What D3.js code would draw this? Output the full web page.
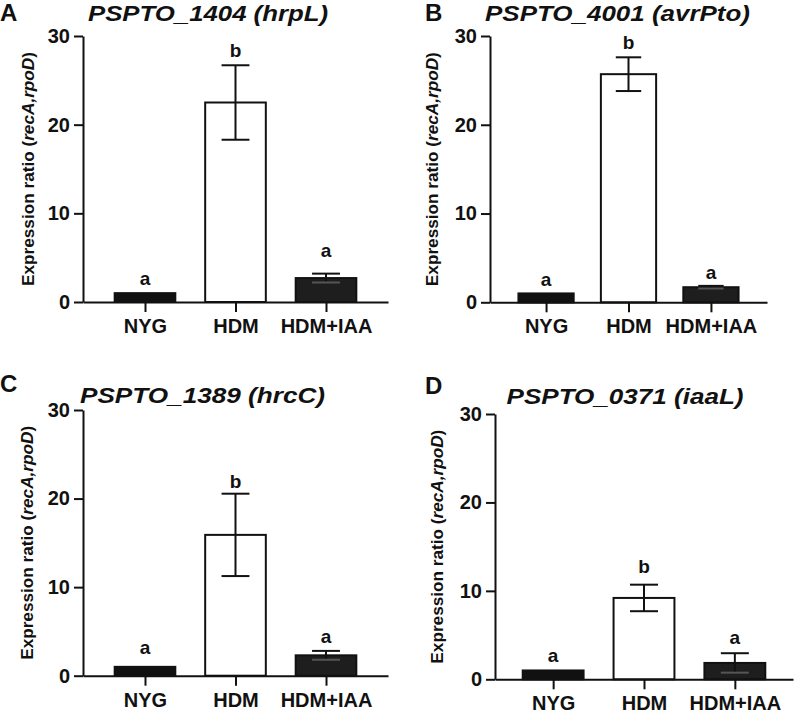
<!DOCTYPE html>
<html><head><meta charset="utf-8">
<script src="https://cdn.jsdelivr.net/npm/d3@7"></script>
<style>
body{margin:0;background:#fff}
text{font-family:"Liberation Sans",Arial,Helvetica,sans-serif;font-weight:bold;fill:#111}
</style>
</head><body>
<svg id="chart" width="800" height="714"></svg>
<script>
// ---------- DATA ----------
const categories = ["NYG", "HDM", "HDM+IAA"];
const panelLetters = ["A", "B", "C", "D"];
const geneIds = ["PSPTO_1404", "PSPTO_4001", "PSPTO_1389", "PSPTO_0371"];
const geneNames = ["hrpL", "avrPto", "hrcC", "iaaL"];
const yTicks = [0, 10, 20, 30];
const yMax = 30;

const meansA = [1.0, 22.5, 2.7];
const errA   = [0, 4.2, 0.5];
const sigA   = ["a", "b", "a"];
const sigPosA = [1.9, 27.6, 5.1];

const meansB = [1.0, 25.7, 1.7];
const errB   = [0, 1.9, 0.15];
const sigB   = ["a", "b", "a"];
const sigPosB = [1.85, 28.5, 2.6];

const meansC = [1.0, 15.9, 2.3];
const errC   = [0, 4.65, 0.5];
const sigC   = ["a", "b", "a"];
const sigPosC = [2.5, 21.2, 3.7];

const meansD = [1.0, 9.2, 1.85];
const errD   = [0, 1.5, 1.1];
const sigD   = ["a", "b", "a"];
const sigPosD = [2.0, 12.0, 4.0];

const allMeans = [meansA, meansB, meansC, meansD];
const allErr = [errA, errB, errC, errD];
const allSig = [sigA, sigB, sigC, sigD];
const allSigPos = [sigPosA, sigPosB, sigPosC, sigPosD];

// ---------- LAYOUT ----------
const layout = [
  {x0:83,  x1:388, pad:0.685, yTop:36,  yBot:302,   titleX:208,   titleY:21,  titleLen:240, letX:0,   letY:21,  ylabX:34},
  {x0:490, x1:767, pad:0.68,  yTop:36,  yBot:302.3, titleX:617.5, titleY:21,  titleLen:265, letX:425, letY:21,  ylabX:438},
  {x0:83,  x1:388, pad:0.685, yTop:410, yBot:675.7, titleX:202.5, titleY:403, titleLen:245, letX:0,   letY:392, ylabX:33},
  {x0:495, x1:793, pad:0.64,  yTop:414, yBot:679.3, titleX:625,   titleY:403.5, titleLen:237, letX:425, letY:394, ylabX:443}
];
const barFills = ["#111111", "#ffffff", "#1e1e1e"];

const svg = d3.select("#chart");

layout.forEach((L, i) => {
  const g = svg.append("g");
  const x = d3.scalePoint().domain(categories).range([L.x0, L.x1]).padding(L.pad);
  const y = d3.scaleLinear().domain([0, yMax]).range([L.yBot, L.yTop]);
  const bw = x.step() * 0.67;
  const means = allMeans[i], errs = allErr[i];

  // bars
  g.selectAll("rect.bar").data(categories).join("rect")
    .attr("x", d => x(d) - bw / 2)
    .attr("y", (d, j) => y(means[j]))
    .attr("width", bw)
    .attr("height", (d, j) => y(0) - y(means[j]))
    .attr("fill", (d, j) => barFills[j])
    .attr("stroke", "#111").attr("stroke-width", 2);

  // error bars
  const capW = bw * 0.46;
  categories.forEach((c, j) => {
    if (errs[j] <= 0) return;
    const cx = x(c);
    const top = y(means[j] + errs[j]), bot = y(means[j] - errs[j]);
    const col = j === 1 ? "#111" : "#111";
    g.append("line").attr("x1", cx).attr("x2", cx).attr("y1", top).attr("y2", bot)
      .attr("stroke", col).attr("stroke-width", 2);
    g.append("line").attr("x1", cx - capW / 2).attr("x2", cx + capW / 2).attr("y1", top).attr("y2", top)
      .attr("stroke", "#111").attr("stroke-width", 2);
    g.append("line").attr("x1", cx - capW / 2).attr("x2", cx + capW / 2).attr("y1", bot).attr("y2", bot)
      .attr("stroke", j === 1 ? "#111" : "#555").attr("stroke-width", 2);
  });

  // axes
  const yAxis = g.append("g").attr("transform", `translate(${L.x0},0)`)
    .call(d3.axisLeft(y).tickValues(yTicks).tickSize(9).tickSizeOuter(0).tickPadding(4));
  const xAxis = g.append("g").attr("transform", `translate(0,${L.yBot})`)
    .call(d3.axisBottom(x).tickSize(10).tickSizeOuter(0).tickPadding(0));
  [yAxis, xAxis].forEach(a => {
    a.select(".domain").attr("stroke", "#111").attr("stroke-width", 2);
    a.selectAll(".tick line").attr("stroke", "#111").attr("stroke-width", 2);
  });
  yAxis.selectAll(".tick text").attr("font-size", 20).attr("fill", "#111")
    .style("font-family", '"Liberation Sans",Arial,sans-serif').style("font-weight", "bold");
  xAxis.selectAll(".tick text").attr("font-size", 20).attr("fill", "#111")
    .attr("y", 31).attr("dy", 0)
    .style("font-family", '"Liberation Sans",Arial,sans-serif').style("font-weight", "bold");

  // significance letters
  g.selectAll("text.sig").data(categories).join("text")
    .attr("class", "sig")
    .attr("x", d => x(d))
    .attr("y", (d, j) => y(allSigPos[i][j]))
    .attr("text-anchor", "middle").attr("font-size", 19)
    .text((d, j) => allSig[i][j]);

  // panel letter
  g.append("text").attr("x", L.letX).attr("y", L.letY).attr("font-size", 24)
    .text(panelLetters[i]);

  // title
  g.append("text").attr("x", L.titleX).attr("y", L.titleY)
    .attr("text-anchor", "middle").attr("font-size", 22).attr("font-style", "italic")
    .attr("textLength", L.titleLen).attr("lengthAdjust", "spacingAndGlyphs")
    .text(`${geneIds[i]} (${geneNames[i]})`);

  // y label
  const yl = g.append("text")
    .attr("transform", `translate(${L.ylabX},${(L.yTop + L.yBot) / 2}) rotate(-90)`)
    .attr("text-anchor", "middle").attr("font-size", 17)
    .attr("textLength", 234).attr("lengthAdjust", "spacingAndGlyphs");
  yl.append("tspan").text("Expression ratio (");
  yl.append("tspan").attr("font-style", "italic").text("recA,rpoD");
  yl.append("tspan").text(")");
});
</script>
</body></html>
